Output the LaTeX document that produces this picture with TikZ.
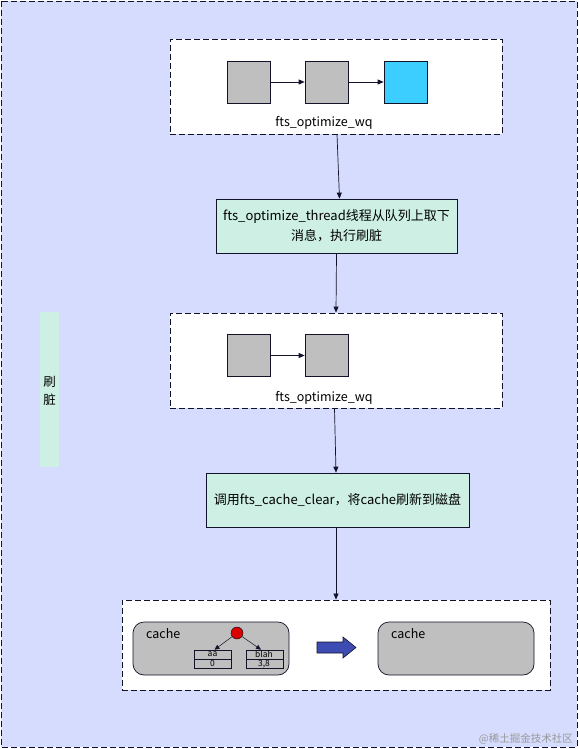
\documentclass[tikz,border=0pt]{standalone}
\usepackage{fontspec}
\setmainfont{Noto Sans CJK SC}
\usetikzlibrary{arrows.meta}
\definecolor{bgc}{RGB}{214,220,253}
\definecolor{mint}{RGB}{206,240,228}
\definecolor{gr}{RGB}{191,191,191}
\definecolor{cy}{RGB}{60,206,255}
\definecolor{ln}{RGB}{18,18,40}
\definecolor{blu}{RGB}{60,76,178}
\tikzset{
  dbox/.style={draw=ln,dashed,dash pattern=on 6pt off 3pt,fill=white,line width=0.9pt,minimum width=#1,minimum height=95pt,inner sep=0pt},
  sq/.style={draw=ln,fill=gr,line width=0.7pt,minimum width=43pt,minimum height=42pt,inner sep=0pt},
  gbox/.style={draw=ln,fill=mint,line width=0.7pt,inner sep=0pt,align=center,font=\fontsize{13}{20}\selectfont},
  lbl/.style={font=\fontsize{12.5}{14}\selectfont,inner sep=0pt},
  arr/.style={-{Triangle[length=6pt,width=5pt]},line width=0.7pt,draw=ln},
  tarr/.style={-{Triangle[length=5pt,width=4.5pt]},line width=0.5pt,draw=ln},
  cachebox/.style={draw=ln,fill=gr,rounded corners=11pt,line width=0.7pt,minimum width=156pt,minimum height=53pt,inner sep=0pt},
  cell/.style={draw=ln,fill=gr,line width=0.6pt,minimum width=37pt,minimum height=9pt,inner sep=0pt},
  celltxt/.style={font=\fontsize{8.5}{9}\selectfont,inner sep=0pt}
}
\begin{document}
\begin{tikzpicture}[x=1pt,y=-1pt]
\useasboundingbox (0,0) rectangle (578,749);
\draw[ln,fill=bgc,line width=0.9pt,dash pattern=on 6pt off 3pt] (1,1) rectangle (577,747);
% side label
\node[fill=mint,minimum width=19pt,minimum height=155pt,inner sep=0pt] (side) at (49.5,389.5) {};
\node[lbl,align=center,font=\fontsize{12.5}{18}\selectfont] (sidet) at (49.5,391) {刷\\脏};
% box1
\node[dbox=332pt] (b1) at (336,86.5) {};
\node[sq] (s1) at (248.5,82) {};
\node[sq] (s2) at (326.5,82) {};
\node[sq,fill=cy] (s3) at (405.5,82) {};
\draw[arr] (s1) -- (s2);
\draw[arr] (s2) -- (s3);
\node[lbl] (l1) at (324,123) {fts\_optimize\_wq};
% box2
\node[gbox,minimum width=241pt,minimum height=54pt] (b2) at (336.5,226) {fts\_optimize\_thread线程从队列上取下\\消息，执行刷脏};
\draw[arr] ([xshift=1pt]b1.south) -- ([xshift=3pt]b2.north);
% box3
\node[dbox=332pt] (b3) at (336,360.5) {};
\node[sq] (t1) at (248.5,355.5) {};
\node[sq] (t2) at (326.5,355.5) {};
\draw[arr] (t1) -- (t2);
\node[lbl] (l3) at (324,398) {fts\_optimize\_wq};
\draw[arr] (b2.south) -- (b3.north);
% box4
\node[gbox,minimum width=263pt,minimum height=54pt] (b4) at (337.5,500) {调用fts\_cache\_clear，将cache刷新到磁盘};
\draw[arr] ([xshift=-1.5pt]b3.south) -- ([xshift=-1.5pt]b4.north);
% box5
\node[draw=ln,dashed,dash pattern=on 6pt off 3pt,fill=white,line width=0.9pt,minimum width=428pt,minimum height=90pt,inner sep=0pt] (b5) at (336,645) {};
\draw[arr] ([xshift=-1.5pt]b4.south) -- (b5.north);
\node[cachebox] (c1) at (211,648.5) {};
\node[lbl,anchor=west] (c1t) at (146,634) {cache};
\node[cachebox] (c2) at (456,648.5) {};
\node[lbl,anchor=west] (c2t) at (391,634) {cache};
% tree
\node[circle,draw=ln,fill=red!85!black,minimum size=12pt,inner sep=0pt,line width=0.5pt] (rt) at (237,633) {};
\node[cell] (a1) at (212.5,654.5) {};
\node[cell] (a2) at (212.5,663.5) {};
\node[cell] (bb1) at (265,654.5) {};
\node[cell] (bb2) at (265,663.5) {};
\node[celltxt] (a1t) at (212.5,654.5) {aa};
\node[celltxt] (a2t) at (212.5,663.8) {0};
\node[celltxt] (bb1t) at (264,654.5) {blah};
\node[celltxt] (bb2t) at (264,663.8) {3,8};
\draw[tarr] (rt) -- ([xshift=2pt]a1.north);
\draw[tarr] (rt) -- ([xshift=-4pt]bb1.north);
% block arrow
\filldraw[draw=ln,fill=blu,line width=0.6pt] (317,642) -- (343,642) -- (343,637) -- (356,647.5) -- (343,658) -- (343,653) -- (317,653) -- cycle;
% watermark
\node[font=\fontsize{10.5}{12}\selectfont,text=gray!80,anchor=east,inner sep=0pt] (wm) at (573,739) {@稀土掘金技术社区};
\end{tikzpicture}
\end{document}
